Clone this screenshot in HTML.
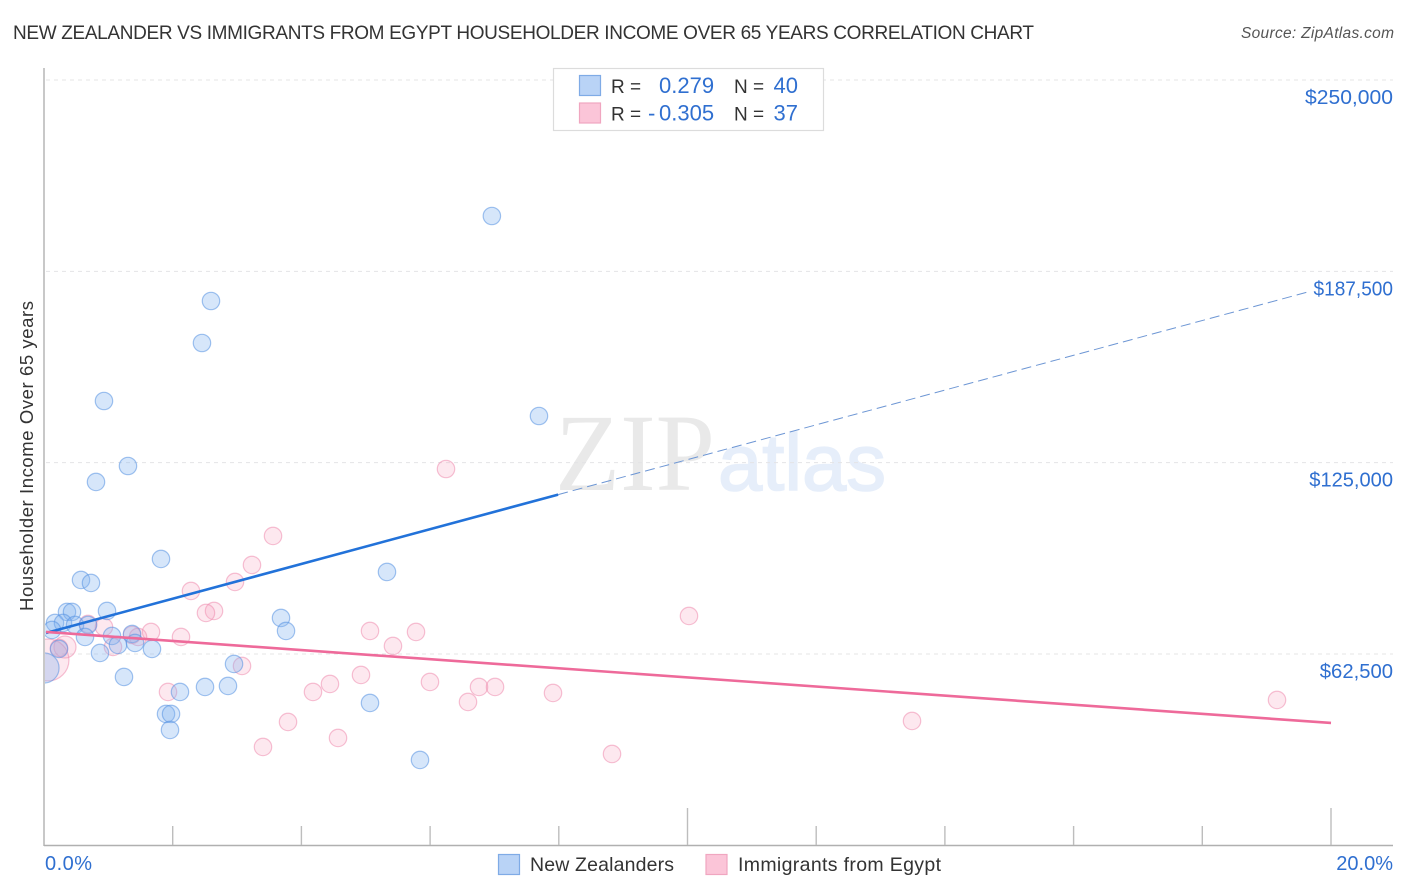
<!DOCTYPE html>
<html lang="en">
<head>
<meta charset="utf-8">
<title>New Zealander vs Immigrants from Egypt Householder Income Over 65 Years Correlation Chart</title>
<style>
html,body{margin:0;padding:0;background:#fff;}
svg{display:block;font-family:"Liberation Sans",sans-serif;}
</style>
</head>
<body>
<svg id="chart" width="1406" height="892" viewBox="0 0 1406 892" xmlns="http://www.w3.org/2000/svg">
  <defs>
    <clipPath id="plot-clip"><rect x="45" y="60" width="1350" height="785"></rect></clipPath>
  </defs>
  <rect x="0" y="0" width="1406" height="892" fill="#fff"></rect>
  <text x="13" y="39" font-size="19" fill="#333" textLength="1021" lengthAdjust="spacing">NEW ZEALANDER VS IMMIGRANTS FROM EGYPT HOUSEHOLDER INCOME OVER 65 YEARS CORRELATION CHART</text>
  <text x="1394" y="38" font-size="15.5" font-style="italic" fill="#555" text-anchor="end" textLength="153" lengthAdjust="spacing">Source: ZipAtlas.com</text>
  <g id="watermark">
    <text x="555" y="490" font-family="'Liberation Serif',serif" font-size="110" fill="#e9e9e9" textLength="160" lengthAdjust="spacingAndGlyphs">ZIP</text>
    <text x="718" y="490" font-family="'Liberation Sans',sans-serif" font-weight="400" font-size="80" fill="#e6eefa" stroke="#e6eefa" stroke-width="1.6" textLength="168" lengthAdjust="spacingAndGlyphs">atlas</text>
  </g>
  <g id="grid"></g>
  <g id="axes"></g>
  <text transform="translate(33,456) rotate(-90)" font-size="18.5" fill="#333" text-anchor="middle" textLength="310" lengthAdjust="spacing">Householder Income Over 65 years</text>
  <g id="points" clip-path="url(#plot-clip)"></g>
  <g id="trends"></g>
  <g id="labels"></g>

  <g>
    <rect x="553.5" y="68.5" width="270" height="62" fill="#fff" stroke="#dcdcdc" stroke-width="1.2"></rect>
    <rect x="579.5" y="75.5" width="21" height="20" fill="#b9d3f6" stroke="#7fabe6" stroke-width="1.2"></rect>
    <rect x="579.5" y="103" width="21" height="20" fill="#fbc5d8" stroke="#f0a6c0" stroke-width="1.2"></rect>
    <text x="611" y="93" font-size="19" fill="#333">R =</text>
    <text x="659" y="93" font-size="22" fill="#2f6fd0">0.279</text>
    <text x="734" y="93" font-size="19" fill="#333">N =</text>
    <text x="798" y="93" font-size="22" fill="#2f6fd0" text-anchor="end">40</text>
    <text x="611" y="120.5" font-size="19" fill="#333">R =</text>
    <text y="120.5" font-size="22" fill="#2f6fd0"><tspan x="648">-</tspan><tspan x="659">0.305</tspan></text>
    <text x="734" y="120.5" font-size="19" fill="#333">N =</text>
    <text x="798" y="120.5" font-size="22" fill="#2f6fd0" text-anchor="end">37</text>
  </g>

  <g>
    <rect x="498.5" y="854.5" width="21" height="20" fill="#b9d3f6" stroke="#7fabe6" stroke-width="1.2"></rect>
    <text x="530" y="871" font-size="19.5" fill="#333" textLength="144" lengthAdjust="spacing">New Zealanders</text>
    <rect x="706" y="854.5" width="21" height="20" fill="#fbc5d8" stroke="#f0a6c0" stroke-width="1.2"></rect>
    <text x="738" y="871" font-size="19.5" fill="#333" textLength="203" lengthAdjust="spacing">Immigrants from Egypt</text>
  </g>
</svg>
<script>
// ---- chart data ----
const yTickValues = [250000, 187500, 125000, 62500];
const yTickLabels = ["$250,000", "$187,500", "$125,000", "$62,500"];
const xTickValues = [0, 2, 4, 6, 8, 10, 12, 14, 16, 18, 20];
const xMajorTicks = [0, 10, 20];
const xEndLabels = ["0.0%", "20.0%"];

const blueIncomePct = [6.96,2.595,2.455,0.932,7.692,1.305,0.808,1.818,5.33,0.575,0.73,0.979,0.357,0.435,3.683,0.171,0.295,0.482,0.684,0.124,3.761,1.368,0.637,1.057,1.414,1.15,1.678,0.87,0.233,2.953,1.243,0,2.113,2.502,2.859,5.066,1.896,1.974,1.958,5.843];
const blueIncomeVal = [205576,177810,164091,145145,140246,123913,118687,93535,89288,86675,85695,76549,76222,76222,74262,72629,72629,71976,71976,70342,70016,69036,68056,68383,66096,65443,64136,62830,64136,59236,54990,57930,50090,51723,52050,46497,42904,42904,37677,27878];
const blueWeights = [1,1,1,1,1,1,1,1,1,1,1,1,1,1,1,1,1,1,1,1,1,1,1,1,1,1,1,1,1,1,1,3,1,1,1,1,1,1,1,1];

const pinkIncomePct = [6.247,3.559,3.232,2.968,2.284,2.642,2.517,10.023,0.684,0.932,5.066,5.781,1.663,1.368,1.461,2.129,5.423,0.326,0.233,1.072,3.077,4.926,5.998,4.444,6.76,7.009,1.927,4.18,7.91,6.589,19.161,13.489,3.792,4.569,3.403,8.827,0.062];
const pinkIncomeVal = [122933,101048,91575,86022,83082,76549,75896,74916,72302,71322,70016,69689,69689,68709,68056,68056,65116,64789,64463,64789,58583,55643,53357,52703,51723,51723,50090,50090,49764,46824,47477,40617,40291,35064,32124,29838,60543];
const pinkWeights = [1,1,1,1,1,1,1,1,1,1,1,1,1,1,1,1,1,1.6,1,1,1,1,1,1,1,1,1,1,1,1,1,1,1,1,1,1,5.8];

const blueTrendPct = [0, 7.99, 19.64];
const blueTrendVal = [69201, 114570, 180750];
const pinkTrendPct = [0, 20];
const pinkTrendVal = [69693, 39964];

// ---- axis functions ----
function xScale(pct) { return 44 + pct * 64.35; }
function yScale(val) { return 80 + (250000 - val) * 191.33 / 62500; }
function radius(weight) { return 8.7 * Math.sqrt(weight); }
function labelWidth(str) {
  let w = 0;
  for (const ch of str) {
    if (ch === '$') { w += 12; }
    else if (ch === ',') { w += 4.6; }
    else if (ch === '1') { w += 7.6; }
    else if (ch === '8') { w += 7.7; }
    else if (ch === '6') { w += 9; }
    else { w += 11.9; }
  }
  return w;
}

const NS = "http://www.w3.org/2000/svg";
function make(tag, parentId, attrs) {
  const el = document.createElementNS(NS, tag);
  for (const k in attrs) { el.setAttribute(k, attrs[k]); }
  document.getElementById(parentId).appendChild(el);
  return el;
}

// gridlines and tick labels
yTickValues.forEach(function (v, i) {
  const gy = yScale(v);
  const line = make("line", "grid", { x1: 46, x2: 1393, y1: gy, y2: gy, stroke: "#e4e4e6", "stroke-width": 1, "stroke-dasharray": "4 4" });
  
  
  const label = make("text", "labels", { x: 1393, y: gy + 24, "font-size": 20, fill: "#2f6fd0", "text-anchor": "end", textLength: labelWidth(yTickLabels[i]), lengthAdjust: "spacingAndGlyphs" });
  label.textContent = yTickLabels[i];
  
  
});

// axes
const yAxisLine = make("line", "axes", { x1: 44, x2: 44, y1: 68, y2: 846, stroke: "#b0b0b0", "stroke-width": 1.4 });


const xAxisLine = make("line", "axes", { x1: 44, x2: 1393, y1: 845.5, y2: 845.5, stroke: "#b0b0b0", "stroke-width": 1.4 });


xTickValues.forEach(function (t) {
  if (t === 0) { return; }
  const tx = xScale(t);
  const top = xMajorTicks.indexOf(t) >= 0 ? 808 : 826;
  const tick = make("line", "axes", { x1: tx, x2: tx, y1: top, y2: 845, stroke: "#bdbdbd", "stroke-width": 1.4 });
  
  
});
const xLabelLeft = make("text", "labels", { x: 45, y: 870, "font-size": 20, fill: "#2f6fd0", textLength: 47, lengthAdjust: "spacing" });
xLabelLeft.textContent = xEndLabels[0];


const xLabelRight = make("text", "labels", { x: 1393, y: 870, "font-size": 20, fill: "#2f6fd0", "text-anchor": "end" });
xLabelRight.textContent = xEndLabels[1];



// points
pinkIncomePct.forEach(function (p, i) {
  const c = make("circle", "points", { cx: xScale(p), cy: yScale(pinkIncomeVal[i]), r: radius(pinkWeights[i]), fill: "rgba(248,160,190,0.24)", stroke: "rgba(238,140,175,0.55)", "stroke-width": 1.2 });
  
  
});
blueIncomePct.forEach(function (p, i) {
  const c = make("circle", "points", { cx: xScale(p), cy: yScale(blueIncomeVal[i]), r: radius(blueWeights[i]), fill: "rgba(130,180,240,0.33)", stroke: "rgba(85,145,225,0.55)", "stroke-width": 1.2 });
  
  
});

// trend lines
const blueSolid = make("line", "trends", { x1: xScale(blueTrendPct[0]) + 2, y1: yScale(blueTrendVal[0]) - 0.5, x2: xScale(blueTrendPct[1]), y2: yScale(blueTrendVal[1]), stroke: "#2272d9", "stroke-width": 2.6 });


const blueDash = make("line", "trends", { x1: xScale(blueTrendPct[1]), y1: yScale(blueTrendVal[1]), x2: xScale(blueTrendPct[2]), y2: yScale(blueTrendVal[2]), stroke: "#6d96d4", "stroke-width": 1, "stroke-dasharray": "10 5" });


const pinkSolid = make("line", "trends", { x1: xScale(pinkTrendPct[0]) + 2, y1: yScale(pinkTrendVal[0]), x2: xScale(pinkTrendPct[1]), y2: yScale(pinkTrendVal[1]), stroke: "#ee6a9a", "stroke-width": 2.6 });


</script>
</body>
</html>
